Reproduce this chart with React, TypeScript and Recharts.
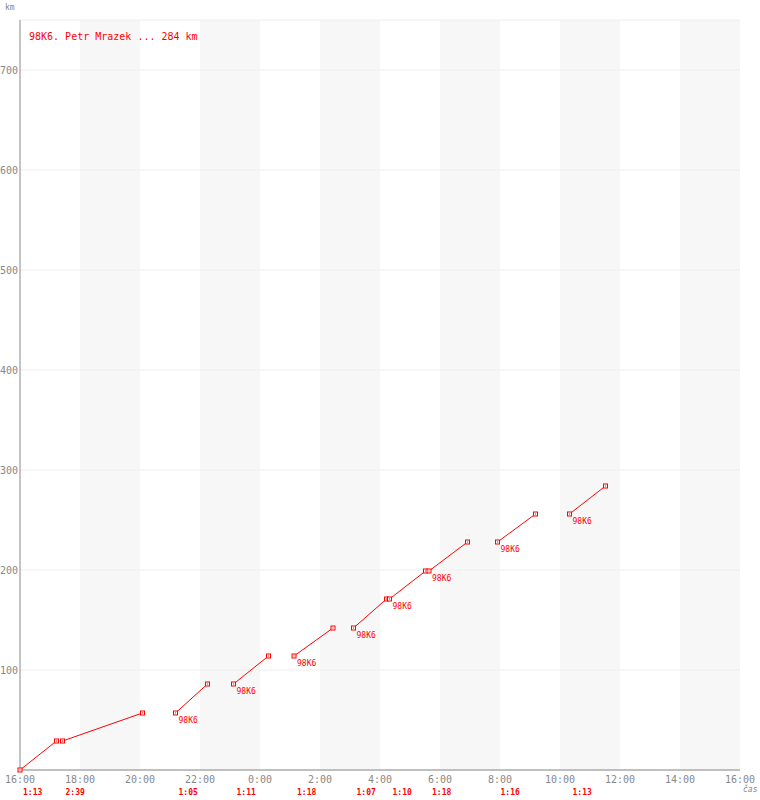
import { LineChart, Line, XAxis, YAxis, CartesianGrid, Legend } from "recharts";

const FONT = "'DejaVu Sans Mono', monospace";
const RED = "#ff0000";
const GREY = "#888888";

// leg start / finish clock times
const legStart = ["16:00", "17:25", "21:11", "23:07", "01:08", "03:07", "04:19", "05:38", "07:55", "10:19"];
const legEnd = ["17:13", "20:05", "22:15", "00:17", "02:26", "04:13", "05:31", "06:55", "09:11", "11:31"];
const legDuration = ["1:13", "2:39", "1:05", "1:11", "1:18", "1:07", "1:10", "1:18", "1:16", "1:13"];
const legKm = [0, 29, 57, 86, 114, 142, 171, 199, 228, 256, 284];
const legLabel = ["", "", "98K6", "98K6", "98K6", "98K6", "98K6", "98K6", "98K6", "98K6"];

const hourTicks = [0, 2, 4, 6, 8, 10, 12, 14, 16, 18, 20, 22, 24];
const hourLabels = ["16:00", "18:00", "20:00", "22:00", "0:00", "2:00", "4:00", "6:00", "8:00", "10:00", "12:00", "14:00", "16:00"];
const kmTicks = [100, 200, 300, 400, 500, 600, 700];

const rider = "98K6. Petr Mrazek";

// hours since 16:00
const toHours = (clock: string) => {
  const [h, m] = clock.split(":").map(Number);
  return (h + m / 60 - 16 + 24) % 24;
};

const rows: any[] = [];
legStart.forEach((s, i) => {
  const t0 = toHours(s);
  const t1 = toHours(legEnd[i]);
  if (i > 0) rows.push({ t: t0 - 0.01, km: null });
  rows.push({ t: t0, km: legKm[i], label: legLabel[i] });
  rows.push({ t: t1, km: legKm[i + 1] });
});
const startTicks = legStart.map(toHours);

const renderDot = (p: any) => {
  const { cx, cy, index, payload } = p;
  if (cx == null || cy == null || payload.km == null) return <g key={"d" + index} />;
  return (
    <g key={"d" + index}>
      <rect x={cx - 2} y={cy - 2} width={4} height={4} fill="#fff" stroke={RED} strokeWidth={1} />
      <rect x={cx - 0.5} y={cy - 0.5} width={1} height={1} fill={RED} />
      {payload.label ? (
        <text x={cx + 3} y={cy + 10} fill={RED} fontSize={8} fontFamily={FONT}>
          {payload.label}
        </text>
      ) : null}
    </g>
  );
};

export default function App() {
  return (
    <div style={{ position: "absolute", left: 0, top: 0, background: "#fff" }}>
      <LineChart width={760} height={800} data={rows} margin={{ top: 20, right: 20, left: 0, bottom: 0 }}>
        <CartesianGrid
          stroke="#eeeeee"
          verticalFill={["#ffffff", "#f7f7f7"]}
          vertical={(p: any) => <g key={p.key} />}
        />
        <XAxis
          dataKey="t"
          type="number"
          domain={[0, 24]}
          ticks={hourTicks}
          interval={0}
          tickFormatter={(v: number, i: number) => hourLabels[i]}
          height={14}
          stroke={GREY}
          tickLine={false}
          tickSize={0}
          tickMargin={6}
          tick={{ fill: GREY, fontSize: 10, fontFamily: FONT }}
        />
        <XAxis
          xAxisId="dur"
          dataKey="t"
          type="number"
          domain={[0, 24]}
          ticks={startTicks}
          interval={0}
          tickFormatter={(v: number, i: number) => legDuration[i]}
          height={16}
          axisLine={false}
          tickLine={false}
          tickSize={0}
          tickMargin={5}
          tick={{ fill: RED, fontSize: 8, fontWeight: "bold", fontFamily: FONT, textAnchor: "start", dx: 3 }}
          label={{
            content: () => (
              <text x={743} y={792} fill={GREY} fontSize={8} fontStyle="italic" fontFamily={FONT}>
                čas
              </text>
            ),
          }}
        />
        <YAxis
          type="number"
          domain={[0, 750]}
          ticks={kmTicks}
          interval={0}
          width={20}
          stroke={GREY}
          tickLine={false}
          tickSize={0}
          tickMargin={2}
          tick={{ fill: GREY, fontSize: 10, fontFamily: FONT }}
          label={{
            content: () => (
              <text x={5} y={10} fill={GREY} fontSize={8} fontFamily={FONT}>
                km
              </text>
            ),
          }}
        />
        <Legend
          verticalAlign="middle"
          align="center"
          wrapperStyle={{ top: 31, left: 29, width: 400 }}
          content={() => (
            <div style={{ color: RED, fontSize: 10, fontFamily: FONT, lineHeight: "12px" }}>
              {rider} ... {legKm[legKm.length - 1]} km
            </div>
          )}
        />
        <Line
          dataKey="km"
          type="linear"
          stroke={RED}
          strokeWidth={1}
          dot={renderDot}
          activeDot={false}
          connectNulls={false}
          isAnimationActive={false}
        />
      </LineChart>
    </div>
  );
}
